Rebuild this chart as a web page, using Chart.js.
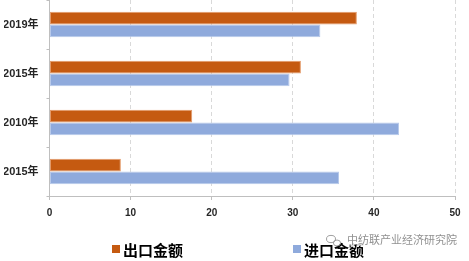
<!DOCTYPE html>
<html>
<head>
<meta charset="utf-8">
<script src="https://cdn.jsdelivr.net/npm/chart.js@4"></script>
<style>
html,body{margin:0;padding:0;background:#fff;}
#wrap{width:469px;height:261px;position:relative;}
</style>
</head>
<body>
<div id="wrap"><canvas id="c" width="469" height="261"></canvas></div>
<script>
const categories = ['2019年', '2015年', '2010年', '2015年'];
const seriesNames = ['出口金额', '进口金额'];
const exportValues = [37.9, 31.0, 17.6, 8.8];
const importValues = [33.4, 29.6, 43.1, 35.7];
const xTicks = [0, 10, 20, 30, 40, 50];
const watermark = '中纺联产业经济研究院';

const legendX = [112, 293];

const legendPlugin = {
  id: 'customLegend',
  afterDraw(chart) {
    const ctx = chart.ctx;
    ctx.save();
    ctx.font = 'bold 15px "Noto Sans CJK SC"';
    ctx.textBaseline = 'middle';
    ctx.textAlign = 'left';
    chart.data.datasets.forEach((ds, i) => {
      const x = legendX[i];
      const y = 249;
      ctx.fillStyle = ds.backgroundColor;
      ctx.fillRect(x, y - 4, 8, 8);
      ctx.fillStyle = '#000';
      ctx.fillText(ds.label, x + 11, y + 1);
    });
    ctx.restore();
  }
};

const watermarkPlugin = {
  id: 'watermark',
  afterDraw(chart) {
    const ctx = chart.ctx;
    ctx.save();
    ctx.font = '11px "Noto Sans CJK SC"';
    ctx.textBaseline = 'middle';
    ctx.textAlign = 'left';
    ctx.lineWidth = 3;
    ctx.strokeStyle = 'rgba(255,255,255,0.85)';
    ctx.strokeText(watermark, 347, 240);
    ctx.fillStyle = 'rgba(125,125,125,0.85)';
    ctx.fillText(watermark, 347, 240);
    ctx.strokeStyle = 'rgba(150,150,150,0.9)';
    ctx.lineWidth = 1;
    ctx.beginPath();
    ctx.ellipse(331, 239, 4.5, 3.6, 0, 0, Math.PI * 2);
    ctx.stroke();
    ctx.beginPath();
    ctx.ellipse(337, 243, 3.6, 3, 0, 0, Math.PI * 2);
    ctx.stroke();
    ctx.restore();
  }
};

new Chart(document.getElementById('c'), {
  type: 'bar',
  data: {
    labels: categories,
    datasets: [
      {
        label: seriesNames[0],
        data: exportValues,
        backgroundColor: '#C55A11',
        borderColor: '#E39A6A',
        borderWidth: 1,
        borderSkipped: false
      },
      {
        label: seriesNames[1],
        data: importValues,
        backgroundColor: '#8FAADC',
        borderColor: '#B7C9EA',
        borderWidth: 1,
        borderSkipped: false
      }
    ]
  },
  options: {
    indexAxis: 'y',
    responsive: false,
    animation: false,
    devicePixelRatio: 1,
    layout: { padding: { top: 0, left: 4, right: 14, bottom: 35 } },
    datasets: { bar: { categoryPercentage: 0.52, barPercentage: 1.0 } },
    scales: {
      x: {
        min: 0,
        max: 50,
        afterBuildTicks(axis) { axis.ticks = xTicks.map(v => ({ value: v })); },
        grid: {
          color: '#D9D9D9',
          lineWidth: 1,
          drawTicks: true,
          tickLength: 4,
          tickColor: '#BFBFBF'
        },
        border: { display: true, color: '#BFBFBF', dash: [4, 3], width: 1 },
        ticks: {
          color: '#262626',
          font: { family: '"Liberation Sans", Arial', size: 10, weight: 'bold' },
          padding: 7
        }
      },
      y: {
        afterFit(scale) {
          scale.paddingTop = 0;
          scale.paddingBottom = 0;
          scale.width = 45.5;
        },
        grid: {
          offset: true,
          drawOnChartArea: false,
          drawTicks: true,
          tickLength: 3,
          tickColor: '#BFBFBF'
        },
        border: { display: true, color: '#BFBFBF', width: 1 },
        ticks: {
          color: '#262626',
          font: { family: '"Liberation Sans", "Noto Sans CJK SC"', size: 11, weight: 'bold' },
          padding: 8
        }
      }
    },
    plugins: {
      legend: { display: false },
      tooltip: { enabled: false }
    }
  },
  plugins: [legendPlugin, watermarkPlugin]
});
</script>
</body>
</html>
